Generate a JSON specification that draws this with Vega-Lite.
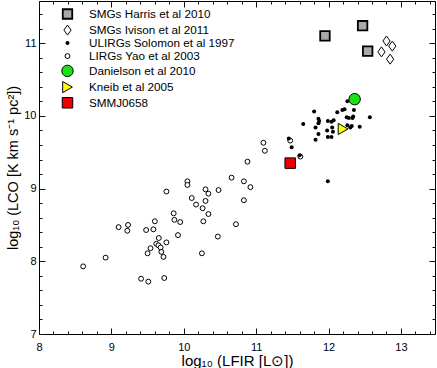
{
  "$schema": "https://vega.github.io/schema/vega-lite/v6.json",
  "width": 396,
  "height": 333,
  "autosize": {"type": "none"},
  "padding": {"left": 39, "top": 1, "right": 2, "bottom": 34},
  "background": "white",
  "config": {
    "view": {"stroke": "black", "strokeWidth": 1},
    "font": "Liberation Sans",
    "legend": {
      "labelFont": "Liberation Sans",
      "labelFontSize": 11.7,
      "labelColor": "black"
    }
  },
  "data": {
    "values": [
      {"series": "LIRGs Yao et al 2003", "lfir": 8.61, "lco": 7.93},
      {"series": "LIRGs Yao et al 2003", "lfir": 8.92, "lco": 8.05},
      {"series": "LIRGs Yao et al 2003", "lfir": 9.10, "lco": 8.47},
      {"series": "LIRGs Yao et al 2003", "lfir": 9.23, "lco": 8.50},
      {"series": "LIRGs Yao et al 2003", "lfir": 9.22, "lco": 8.42},
      {"series": "LIRGs Yao et al 2003", "lfir": 9.41, "lco": 7.76},
      {"series": "LIRGs Yao et al 2003", "lfir": 9.51, "lco": 7.72},
      {"series": "LIRGs Yao et al 2003", "lfir": 9.73, "lco": 7.77},
      {"series": "LIRGs Yao et al 2003", "lfir": 9.48, "lco": 8.43},
      {"series": "LIRGs Yao et al 2003", "lfir": 9.58, "lco": 8.44},
      {"series": "LIRGs Yao et al 2003", "lfir": 9.60, "lco": 8.55},
      {"series": "LIRGs Yao et al 2003", "lfir": 9.655, "lco": 8.32},
      {"series": "LIRGs Yao et al 2003", "lfir": 9.62, "lco": 8.24},
      {"series": "LIRGs Yao et al 2003", "lfir": 9.65, "lco": 8.22},
      {"series": "LIRGs Yao et al 2003", "lfir": 9.68, "lco": 8.19},
      {"series": "LIRGs Yao et al 2003", "lfir": 9.54, "lco": 8.18},
      {"series": "LIRGs Yao et al 2003", "lfir": 9.50, "lco": 8.11},
      {"series": "LIRGs Yao et al 2003", "lfir": 9.69, "lco": 8.13},
      {"series": "LIRGs Yao et al 2003", "lfir": 9.72, "lco": 8.06},
      {"series": "LIRGs Yao et al 2003", "lfir": 9.76, "lco": 8.26},
      {"series": "LIRGs Yao et al 2003", "lfir": 9.76, "lco": 8.96},
      {"series": "LIRGs Yao et al 2003", "lfir": 9.86, "lco": 8.66},
      {"series": "LIRGs Yao et al 2003", "lfir": 9.87, "lco": 8.57},
      {"series": "LIRGs Yao et al 2003", "lfir": 9.95, "lco": 8.54},
      {"series": "LIRGs Yao et al 2003", "lfir": 9.92, "lco": 8.36},
      {"series": "LIRGs Yao et al 2003", "lfir": 10.05, "lco": 9.10},
      {"series": "LIRGs Yao et al 2003", "lfir": 10.05, "lco": 9.05},
      {"series": "LIRGs Yao et al 2003", "lfir": 10.11, "lco": 8.87},
      {"series": "LIRGs Yao et al 2003", "lfir": 10.17, "lco": 8.78},
      {"series": "LIRGs Yao et al 2003", "lfir": 10.30, "lco": 8.99},
      {"series": "LIRGs Yao et al 2003", "lfir": 10.34, "lco": 8.93},
      {"series": "LIRGs Yao et al 2003", "lfir": 10.30, "lco": 8.83},
      {"series": "LIRGs Yao et al 2003", "lfir": 10.26, "lco": 8.73},
      {"series": "LIRGs Yao et al 2003", "lfir": 10.34, "lco": 8.65},
      {"series": "LIRGs Yao et al 2003", "lfir": 10.27, "lco": 8.55},
      {"series": "LIRGs Yao et al 2003", "lfir": 10.25, "lco": 8.11},
      {"series": "LIRGs Yao et al 2003", "lfir": 10.48, "lco": 8.98},
      {"series": "LIRGs Yao et al 2003", "lfir": 10.47, "lco": 8.34},
      {"series": "LIRGs Yao et al 2003", "lfir": 10.66, "lco": 9.15},
      {"series": "LIRGs Yao et al 2003", "lfir": 10.83, "lco": 9.10},
      {"series": "LIRGs Yao et al 2003", "lfir": 10.92, "lco": 9.02},
      {"series": "LIRGs Yao et al 2003", "lfir": 10.83, "lco": 8.84},
      {"series": "LIRGs Yao et al 2003", "lfir": 10.72, "lco": 8.51},
      {"series": "LIRGs Yao et al 2003", "lfir": 10.88, "lco": 9.37},
      {"series": "LIRGs Yao et al 2003", "lfir": 11.10, "lco": 9.63},
      {"series": "LIRGs Yao et al 2003", "lfir": 11.12, "lco": 9.52},
      {"series": "LIRGs Yao et al 2003", "lfir": 11.47, "lco": 9.66},
      {"series": "LIRGs Yao et al 2003", "lfir": 11.61, "lco": 9.44},
      {"series": "ULIRGs Solomon et al 1997", "lfir": 11.45, "lco": 9.69},
      {"series": "ULIRGs Solomon et al 1997", "lfir": 11.49, "lco": 9.57},
      {"series": "ULIRGs Solomon et al 1997", "lfir": 11.60, "lco": 9.46},
      {"series": "ULIRGs Solomon et al 1997", "lfir": 11.99, "lco": 9.10},
      {"series": "ULIRGs Solomon et al 1997", "lfir": 11.65, "lco": 9.89},
      {"series": "ULIRGs Solomon et al 1997", "lfir": 11.80, "lco": 10.06},
      {"series": "ULIRGs Solomon et al 1997", "lfir": 12.12, "lco": 10.05},
      {"series": "ULIRGs Solomon et al 1997", "lfir": 12.19, "lco": 10.08},
      {"series": "ULIRGs Solomon et al 1997", "lfir": 12.22, "lco": 10.09},
      {"series": "ULIRGs Solomon et al 1997", "lfir": 12.26, "lco": 10.20},
      {"series": "ULIRGs Solomon et al 1997", "lfir": 12.35, "lco": 10.08},
      {"series": "ULIRGs Solomon et al 1997", "lfir": 11.86, "lco": 9.96},
      {"series": "ULIRGs Solomon et al 1997", "lfir": 11.87, "lco": 9.93},
      {"series": "ULIRGs Solomon et al 1997", "lfir": 11.86, "lco": 9.90},
      {"series": "ULIRGs Solomon et al 1997", "lfir": 11.99, "lco": 9.93},
      {"series": "ULIRGs Solomon et al 1997", "lfir": 12.04, "lco": 9.92},
      {"series": "ULIRGs Solomon et al 1997", "lfir": 12.07, "lco": 9.94},
      {"series": "ULIRGs Solomon et al 1997", "lfir": 12.25, "lco": 9.98},
      {"series": "ULIRGs Solomon et al 1997", "lfir": 12.28, "lco": 9.97},
      {"series": "ULIRGs Solomon et al 1997", "lfir": 12.33, "lco": 9.97},
      {"series": "ULIRGs Solomon et al 1997", "lfir": 12.34, "lco": 9.99},
      {"series": "ULIRGs Solomon et al 1997", "lfir": 12.57, "lco": 9.98},
      {"series": "ULIRGs Solomon et al 1997", "lfir": 11.82, "lco": 9.84},
      {"series": "ULIRGs Solomon et al 1997", "lfir": 11.98, "lco": 9.80},
      {"series": "ULIRGs Solomon et al 1997", "lfir": 12.05, "lco": 9.84},
      {"series": "ULIRGs Solomon et al 1997", "lfir": 12.06, "lco": 9.78},
      {"series": "ULIRGs Solomon et al 1997", "lfir": 11.86, "lco": 9.75},
      {"series": "ULIRGs Solomon et al 1997", "lfir": 11.82, "lco": 9.67},
      {"series": "ULIRGs Solomon et al 1997", "lfir": 11.99, "lco": 9.71},
      {"series": "ULIRGs Solomon et al 1997", "lfir": 12.04, "lco": 9.71},
      {"series": "ULIRGs Solomon et al 1997", "lfir": 12.26, "lco": 9.87},
      {"series": "ULIRGs Solomon et al 1997", "lfir": 12.30, "lco": 9.84},
      {"series": "ULIRGs Solomon et al 1997", "lfir": 12.32, "lco": 9.86},
      {"series": "ULIRGs Solomon et al 1997", "lfir": 12.43, "lco": 9.85},
      {"series": "SMGs Harris et al 2010", "lfir": 11.95, "lco": 11.10},
      {"series": "SMGs Harris et al 2010", "lfir": 12.47, "lco": 11.24},
      {"series": "SMGs Harris et al 2010", "lfir": 12.54, "lco": 10.89},
      {"series": "SMGs Ivison et al 2011", "lfir": 12.80, "lco": 11.03},
      {"series": "SMGs Ivison et al 2011", "lfir": 12.88, "lco": 10.96},
      {"series": "SMGs Ivison et al 2011", "lfir": 12.73, "lco": 10.88},
      {"series": "SMGs Ivison et al 2011", "lfir": 12.85, "lco": 10.78},
      {"series": "Kneib et al 2005", "lfir": 12.20, "lco": 9.82},
      {"series": "Danielson et al 2010", "lfir": 12.36, "lco": 10.23},
      {"series": "SMMJ0658", "lfir": 11.47, "lco": 9.35}
    ]
  },
  "layer": [
    {
      "mark": {"type": "point", "filled": true, "stroke": "black", "opacity": 1},
      "encoding": {
        "x": {
          "field": "lfir", "type": "quantitative",
          "scale": {"domain": [8, 13.47], "nice": false, "zero": false},
          "axis": {
            "orient": "bottom",
            "title": "log₁₀ (LFIR [L⊙])",
            "values": [8, 9, 10, 11, 12, 13],
            "format": "d",
            "offset": -6,
            "tickSize": 6,
            "tickColor": "#111111",
            "tickWidth": 1,
            "zindex": 2,
            "domain": false,
            "gridOpacity": 0,
            "labelFont": "Liberation Sans", "labelFontSize": 11, "labelColor": "black",
            "labelPadding": 7, "labelFlush": false,
            "titleFont": "Liberation Sans", "titleFontSize": 15, "titleFontWeight": "normal", "titleColor": "black",
            "titlePadding": 1
          }
        },
        "y": {
          "field": "lco", "type": "quantitative",
          "scale": {"domain": [7, 11.58], "nice": false, "zero": false},
          "axis": {
            "orient": "left",
            "title": "log₁₀ (LCO [K km s⁻¹ pc²])",
            "values": [7, 8, 9, 10, 11],
            "format": "d",
            "offset": -6,
            "tickSize": 6,
            "tickColor": "#111111",
            "tickWidth": 1,
            "zindex": 2,
            "domain": false,
            "gridOpacity": 0,
            "labelFont": "Liberation Sans", "labelFontSize": 11, "labelColor": "black",
            "labelPadding": 3, "labelFlush": false,
            "titleFont": "Liberation Sans", "titleFontSize": 14.5, "titleFontWeight": "normal", "titleColor": "black",
            "titlePadding": 3
          }
        },
        "shape": {
          "field": "series", "type": "nominal", "title": null,
          "scale": {
            "domain": ["SMGs Harris et al 2010", "SMGs Ivison et al 2011", "ULIRGs Solomon et al 1997", "LIRGs Yao et al 2003", "Danielson et al 2010", "Kneib et al 2005", "SMMJ0658"],
            "range": ["square", "M-0.72,0L0,-1L0.72,0L0,1Z", "circle", "circle", "circle", "triangle-right", "square"]
          }
        },
        "fill": {
          "field": "series", "type": "nominal", "title": null,
          "scale": {
            "domain": ["SMGs Harris et al 2010", "SMGs Ivison et al 2011", "ULIRGs Solomon et al 1997", "LIRGs Yao et al 2003", "Danielson et al 2010", "Kneib et al 2005", "SMMJ0658"],
            "range": ["#a9a9a9", "#ffffff", "#000000", "#ffffff", "#19e019", "#ffff00", "#ee0000"]
          }
        },
        "size": {
          "field": "series", "type": "nominal", "title": null,
          "scale": {
            "type": "ordinal",
            "domain": ["SMGs Harris et al 2010", "SMGs Ivison et al 2011", "ULIRGs Solomon et al 1997", "LIRGs Yao et al 2003", "Danielson et al 2010", "Kneib et al 2005", "SMMJ0658"],
            "range": [90, 100, 16, 24, 130, 125, 110]
          }
        },
        "strokeWidth": {
          "field": "series", "type": "nominal", "title": null,
          "scale": {
            "type": "ordinal",
            "domain": ["SMGs Harris et al 2010", "SMGs Ivison et al 2011", "ULIRGs Solomon et al 1997", "LIRGs Yao et al 2003", "Danielson et al 2010", "Kneib et al 2005", "SMMJ0658"],
            "range": [1.8, 1, 0, 1, 1, 1, 1]
          },
          "legend": {
            "orient": "none",
            "legendX": 22,
            "legendY": 7,
            "padding": 0,
            "rowPadding": -0.8,
            "labelOffset": 15,
            "symbolStrokeColor": "black"
          }
        }
      }
    },
    {
      "mark": {"type": "point", "opacity": 0},
      "encoding": {
        "x": {
          "field": "lfir", "type": "quantitative",
          "scale": {"domain": [8, 13.47], "nice": false, "zero": false},
          "axis": {
            "orient": "top", "title": null, "labels": false, "domain": false, "gridOpacity": 0, "zindex": 2,
            "values": [8, 9, 10, 11, 12, 13],
            "offset": -6, "tickSize": 6, "tickColor": "#111111", "tickWidth": 1
          }
        },
        "y": {
          "field": "lco", "type": "quantitative",
          "scale": {"domain": [7, 11.58], "nice": false, "zero": false},
          "axis": {
            "orient": "right", "title": null, "labels": false, "domain": false, "gridOpacity": 0, "zindex": 2,
            "values": [7, 8, 9, 10, 11],
            "offset": -6, "tickSize": 6, "tickColor": "#111111", "tickWidth": 1
          }
        }
      }
    },
    {
      "mark": {"type": "point", "opacity": 0},
      "encoding": {
        "x": {
          "field": "lfir", "type": "quantitative",
          "scale": {"domain": [8, 13.47], "nice": false, "zero": false},
          "axis": {
            "orient": "bottom", "title": null, "labels": false, "domain": false, "gridOpacity": 0, "zindex": 2,
            "values": [8.2, 8.4, 8.6, 8.8, 9.2, 9.4, 9.6, 9.8, 10.2, 10.4, 10.6, 10.8, 11.2, 11.4, 11.6, 11.8, 12.2, 12.4, 12.6, 12.8, 13.2, 13.4],
            "offset": -3, "tickSize": 3, "tickColor": "#111111", "tickWidth": 1
          }
        },
        "y": {
          "field": "lco", "type": "quantitative",
          "scale": {"domain": [7, 11.58], "nice": false, "zero": false},
          "axis": {
            "orient": "left", "title": null, "labels": false, "domain": false, "gridOpacity": 0, "zindex": 2,
            "values": [7.2, 7.4, 7.6, 7.8, 8.2, 8.4, 8.6, 8.8, 9.2, 9.4, 9.6, 9.8, 10.2, 10.4, 10.6, 10.8, 11.2, 11.4],
            "offset": -3, "tickSize": 3, "tickColor": "#111111", "tickWidth": 1
          }
        }
      }
    },
    {
      "mark": {"type": "point", "opacity": 0},
      "encoding": {
        "x": {
          "field": "lfir", "type": "quantitative",
          "scale": {"domain": [8, 13.47], "nice": false, "zero": false},
          "axis": {
            "orient": "top", "title": null, "labels": false, "domain": false, "gridOpacity": 0, "zindex": 2,
            "values": [8.2, 8.4, 8.6, 8.8, 9.2, 9.4, 9.6, 9.8, 10.2, 10.4, 10.6, 10.8, 11.2, 11.4, 11.6, 11.8, 12.2, 12.4, 12.6, 12.8, 13.2, 13.4],
            "offset": -3, "tickSize": 3, "tickColor": "#111111", "tickWidth": 1
          }
        },
        "y": {
          "field": "lco", "type": "quantitative",
          "scale": {"domain": [7, 11.58], "nice": false, "zero": false},
          "axis": {
            "orient": "right", "title": null, "labels": false, "domain": false, "gridOpacity": 0, "zindex": 2,
            "values": [7.2, 7.4, 7.6, 7.8, 8.2, 8.4, 8.6, 8.8, 9.2, 9.4, 9.6, 9.8, 10.2, 10.4, 10.6, 10.8, 11.2, 11.4],
            "offset": -3, "tickSize": 3, "tickColor": "#111111", "tickWidth": 1
          }
        }
      }
    }
  ],
  "resolve": {"axis": {"x": "independent", "y": "independent"}}
}
